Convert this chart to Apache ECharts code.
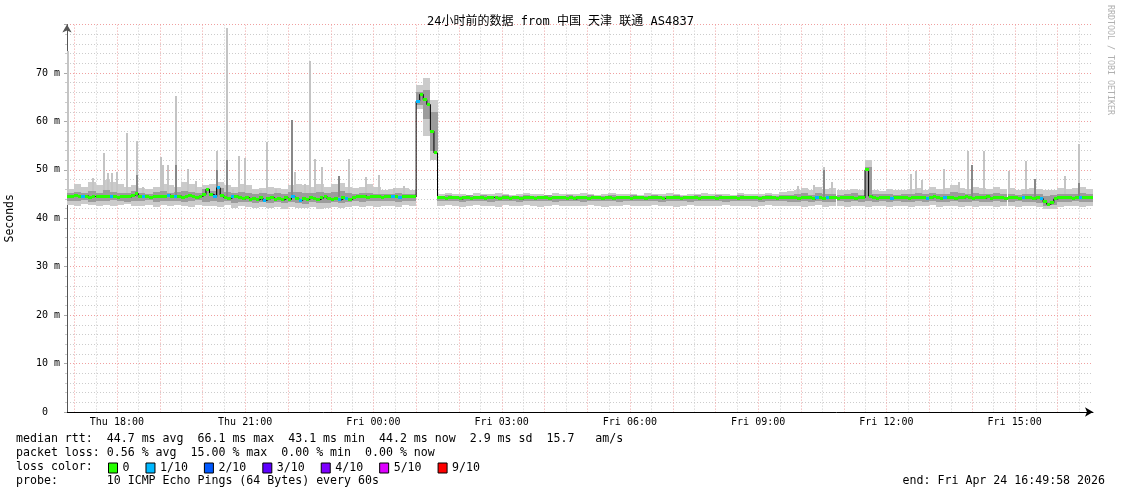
<!DOCTYPE html>
<html><head><meta charset="utf-8">
<script src="https://cdn.jsdelivr.net/npm/echarts@6/dist/echarts.min.js"></script>
<style>html,body{margin:0;padding:0;background:#fff}#c{width:1121px;height:494px}</style>
</head><body><div id="c"></div>
<script>
// ---- time range (hours since Thu 00:00) ----
const startHour = 16.83278;   // Thu 16:49:58
const endHour = 40.83278;     // Fri 16:49:58
const medianStepMin = 5;
const smokeStepMin = 10;

// ---- median RTT (ms), one value per 5 minutes ----
const median = [
44.6,44.5,44.7,44.4,44.5,44.6,44.3,44.5,44.4,44.6,
44.5,44.4,44.6,44.5,44.3,44.5,44.6,44.4,44.7,45.1,
44.6,44.4,44.5,44.3,44.6,44.5,44.4,44.6,44.8,44.5,
44.4,44.6,44.3,44.5,44.7,44.4,44.2,44.5,44.9,46.0,
45.0,44.6,46.3,44.8,44.3,44.1,44.4,44.6,44.2,44.0,
44.3,43.9,44.1,43.8,44.2,43.7,44.0,44.3,43.9,44.1,
43.8,44.2,43.9,44.4,44.0,43.7,44.1,43.9,44.3,44.0,
43.8,44.2,44.5,44.0,43.9,44.1,43.8,44.2,44.0,43.9,
44.3,44.5,44.4,44.6,44.3,44.5,44.4,44.6,44.3,44.5,
44.4,44.6,44.5,44.3,44.5,44.4,44.6,44.4,
64.2,65.6,64.5,63.5,58.0,53.5,
44.2,44.3,44.1,44.2,44.3,44.2,44.0,44.2,44.3,44.1,
44.2,44.2,44.3,44.1,44.2,44.3,44.2,44.1,44.2,44.3,
44.1,44.2,44.2,44.0,44.2,44.3,44.2,44.1,44.2,44.2,
44.3,44.1,44.2,44.2,44.3,44.2,44.1,44.2,44.0,44.2,
44.2,44.3,44.1,44.2,44.2,44.3,44.1,44.2,44.2,44.1,
44.2,44.3,44.2,44.2,44.1,44.2,44.3,44.2,44.1,44.2,
44.2,44.3,44.2,44.1,44.2,44.2,44.3,44.2,44.1,44.2,
44.3,44.2,44.2,44.1,44.2,44.3,44.2,44.2,44.1,44.2,
44.3,44.2,44.2,44.3,44.1,44.2,44.2,44.3,44.2,44.2,
44.1,44.2,44.3,44.2,44.2,44.1,44.2,44.3,44.2,
44.2,44.3,44.1,44.2,44.3,44.2,44.0,44.3,44.2,44.1,
44.2,44.3,44.2,44.1,44.2,44.3,44.2,44.2,44.1,44.3,
44.2,50.0,44.6,44.2,44.1,44.2,44.3,44.2,44.1,44.2,
44.3,44.2,44.2,44.1,44.3,44.2,44.2,44.3,44.1,44.2,
44.4,44.2,44.1,44.3,44.2,44.2,44.0,44.3,44.2,44.4,
44.2,44.1,44.3,44.2,44.2,44.4,44.1,44.2,44.3,44.2,
44.1,44.2,44.3,44.2,44.1,44.3,44.2,44.2,44.0,44.2,
44.1,43.4,42.9,43.2,44.0,44.2,44.3,44.2,44.2,44.1,
44.3,44.2,44.2,44.3,44.2
];
// indices of 5-minute steps with 1/10 packet loss
const lossOneIdx = [4,12,21,28,30,41,42,46,55,63,65,76,78,91,93,98,210,213,231,241,246,268,273,284];

// ---- smoke (ms), one value per 10 minutes ----
const smokeLo = [
42.8,42.6,42.9,42.7,42.5,42.8,42.6,42.7,42.9,42.5,
42.6,42.8,42.4,42.7,42.5,42.8,42.6,42.3,42.7,42.5,
42.6,42.4,42.7,42.2,42.5,42.3,42.1,42.4,42.2,42.3,
42.0,42.4,42.2,42.1,42.3,42.0,42.2,42.4,42.1,42.3,
42.5,42.3,42.6,42.4,42.5,42.6,42.4,42.7,42.5,
62.5,57.0,52.0,
42.5,42.7,42.6,42.4,42.6,42.7,42.5,42.6,42.4,42.7,
42.6,42.5,42.7,42.6,42.4,42.6,42.7,42.5,42.6,42.6,
42.5,42.7,42.6,42.4,42.6,42.5,42.7,42.6,42.5,42.6,
42.7,42.5,42.6,42.4,42.6,42.7,42.5,42.6,42.6,42.5,
42.7,42.6,42.5,42.6,42.4,42.6,42.7,42.5,42.6,42.5,
42.6,42.4,42.5,42.7,42.3,42.6,42.5,42.4,42.6,42.5,
42.4,42.6,42.5,42.3,42.6,42.5,42.4,42.6,42.5,42.7,
42.4,42.5,42.6,42.4,42.5,42.3,42.6,42.5,42.4,42.6,
42.5,42.4,42.6,42.5,42.3,41.9,42.0,42.4,42.5,42.6,
42.4,42.5
];
const smokeHi = [
46.0,47.0,46.5,47.5,46.8,48.0,47.5,47.0,46.5,46.8,
46.3,46.0,46.5,47.0,46.8,46.5,47.5,47.0,46.5,46.8,
47.0,47.5,46.8,46.5,47.0,46.8,46.0,46.3,46.5,46.2,
46.0,46.8,47.0,46.8,46.5,47.0,46.5,47.0,47.3,46.5,
46.2,46.5,47.0,46.5,45.8,46.0,46.2,46.3,45.8,
67.5,69.0,64.5,
45.0,45.2,45.0,45.1,44.9,45.2,45.0,45.1,45.3,45.0,
44.9,45.1,45.2,45.0,45.1,44.9,45.2,45.0,45.1,45.0,
45.2,45.0,44.9,45.1,45.2,45.0,45.1,45.0,44.9,45.2,
45.0,45.1,45.3,45.0,44.9,45.1,45.0,45.2,45.0,45.1,
45.0,44.9,45.2,45.1,45.0,45.1,45.2,45.0,45.4,45.6,
45.8,46.3,45.9,46.5,46.0,46.2,45.8,45.9,46.1,45.8,
52.0,45.9,45.7,46.0,45.8,45.9,46.1,46.3,45.9,46.4,
46.0,46.2,46.8,46.3,46.0,46.5,46.2,46.0,46.4,46.1,
46.3,45.9,46.0,46.2,46.1,45.8,45.9,46.3,46.0,46.2,
46.5,46.0
];
const coreLo = [
43.6,43.5,43.7,43.4,43.6,43.5,43.7,43.5,43.4,43.6,
43.5,43.7,43.4,43.6,43.5,43.6,43.4,43.5,43.7,43.4,
43.5,43.3,43.6,43.2,43.4,43.3,43.1,43.3,43.2,43.4,
43.1,43.3,43.2,43.0,43.3,43.1,43.2,43.4,43.2,43.3,
43.5,43.4,43.6,43.5,43.6,43.5,43.4,43.6,43.5,
63.5,60.5,54.0,
43.5,43.6,43.5,43.4,43.6,43.5,43.6,43.4,43.5,43.6,
43.5,43.4,43.6,43.5,43.5,43.6,43.4,43.5,43.6,43.5,
43.4,43.6,43.5,43.5,43.6,43.4,43.5,43.6,43.5,43.5,
43.6,43.4,43.5,43.6,43.5,43.4,43.6,43.5,43.5,43.6,
43.4,43.5,43.6,43.5,43.5,43.4,43.6,43.5,43.5,43.4,
43.4,43.5,43.3,43.5,43.4,43.3,43.5,43.4,43.5,43.3,
43.6,43.4,43.5,43.3,43.5,43.4,43.3,43.5,43.4,43.5,
43.3,43.4,43.5,43.3,43.4,43.5,43.3,43.4,43.5,43.4,
43.3,43.5,43.4,43.3,43.2,42.6,42.7,43.3,43.4,43.5,
43.3,43.4
];
const coreHi = [
45.2,45.5,45.3,45.6,45.2,45.8,45.5,45.3,45.2,45.6,
45.3,45.1,45.4,45.6,45.3,45.5,45.7,45.4,45.3,46.0,
45.6,46.2,45.5,45.2,45.5,45.3,45.0,45.2,45.1,45.3,
45.0,45.5,45.4,45.2,45.3,45.5,45.2,45.4,45.6,45.2,
45.0,45.2,45.3,45.1,45.0,45.1,45.2,45.0,45.1,
66.0,66.5,62.0,
44.7,44.8,44.7,44.6,44.8,44.7,44.8,44.6,44.7,44.8,
44.7,44.6,44.8,44.7,44.7,44.8,44.6,44.7,44.8,44.7,
44.6,44.8,44.7,44.7,44.8,44.6,44.7,44.8,44.7,44.7,
44.8,44.6,44.7,44.8,44.7,44.6,44.8,44.7,44.7,44.8,
44.6,44.7,44.8,44.7,44.7,44.6,44.8,44.7,44.8,44.9,
45.0,45.2,44.9,45.3,45.0,45.1,44.9,45.0,45.2,44.9,
50.5,45.1,45.0,45.0,44.9,45.0,45.1,45.2,45.0,45.3,
45.0,45.1,45.4,45.2,45.0,45.3,45.1,45.0,45.2,45.0,
45.1,44.9,45.0,45.1,45.0,44.7,44.8,45.1,45.0,45.1,
45.2,45.0
];

// ---- single-ping outliers (thin spikes): hour, max ms ----
const spikeHours = [16.856,17.442,17.700,17.794,17.888,18.005,18.239,18.474,18.614,19.036,19.083,19.200,19.388,19.669,19.856,20.349,20.583,20.724,20.864,21.005,21.380,21.521,21.731,22.177,22.411,22.528,22.645,22.809,23.419,23.817,24.122,24.474,24.708,33.942,34.317,34.552,34.716,36.567,36.685,36.825,37.341,37.692,37.903,37.997,38.278,38.864,39.263,40.177,40.505];
const spikeTops  = [74.5,48.3,53.5,49.3,49.3,49.5,57.7,56.0,46.5,52.7,51.0,51.0,65.2,50.1,47.8,53.9,79.2,46.0,52.9,52.4,45.8,55.8,46.0,49.5,47.0,72.5,52.2,50.6,52.2,48.5,49.0,46.2,46.7,46.7,46.8,50.5,47.5,49.2,49.8,48.0,50.2,47.4,54.0,51.0,53.8,49.8,51.9,48.7,55.3];
const darkSpikeHours = [18.474,19.388,20.349,20.583,22.106,23.184,34.552,37.997,39.474,40.505];
const darkSpikeTops  = [49.0,51.0,50.0,52.0,60.3,48.7,50.0,51.0,48.1,47.3];
const spikeBase = 44.5;

// ---- axis ticks ----
const labelHours = [18,21,24,27,30,33,36,39];
const majorGridHours = [17,18,19,20,21,22,23,24,25,26,27,28,29,30,31,32,33,34,35,36,37,38,39,40];
const minorGridHours = [17.5,18.5,19.5,20.5,21.5,22.5,23.5,24.5,25.5,26.5,27.5,28.5,29.5,30.5,31.5,32.5,33.5,34.5,35.5,36.5,37.5,38.5,39.5,40.5];

const lossNames  = ['0','1/10','2/10','3/10','4/10','5/10','9/10'];
const lossColors = ['#26ff00','#00b8ff','#0059ff','#5e00ff','#7e00ff','#dd00ff','#ff0000'];

const titleText = '24小时前的数据 from 中国 天津 联通 AS4837';
const statLines = [
 'median rtt:  44.7 ms avg  66.1 ms max  43.1 ms min  44.2 ms now  2.9 ms sd  15.7   am/s',
 'packet loss: 0.56 % avg  15.00 % max  0.00 % min  0.00 % now',
 'loss color:',
 'probe:       10 ICMP Echo Pings (64 Bytes) every 60s'
];
const endText = 'end: Fri Apr 24 16:49:58 2026';

// ---------------------------------------------------------------
const MONO = "'DejaVu Sans Mono', monospace";
const mStep = medianStepMin / 60, sStep = smokeStepMin / 60;
const outerData = smokeLo.map((v, k) => [startHour + k * sStep, v, smokeHi[k]]);
const innerData = coreLo.map((v, k) => [startHour + k * sStep, v, coreHi[k]]);
const lineData = median.map((v, i) => [startHour + i * mStep, v]);
lineData.push([endHour, median[median.length - 1]]);
const lossLevel = median.map(() => 0);
lossOneIdx.forEach(i => { lossLevel[i] = 1; });

function bandRender(fill, stepH) {
  return function (params, api) {
    const t = api.value(0), lo = api.value(1), hi = api.value(2);
    const a = api.coord([t, hi]), b = api.coord([t + stepH, lo]);
    const x0 = Math.round(a[0]), x1 = Math.round(b[0]);
    const y0 = Math.round(a[1]), y1 = Math.round(b[1]);
    return { type: 'rect', shape: { x: x0, y: y0, width: Math.max(1, x1 - x0), height: Math.max(1, y1 - y0) }, style: { fill: fill } };
  };
}
function spikeRender(fill, w) {
  return function (params, api) {
    const a = api.coord([api.value(0), api.value(1)]);
    const b = api.coord([api.value(0), spikeBase]);
    const x0 = Math.round(a[0] - w / 2);
    return { type: 'rect', shape: { x: x0, y: Math.round(a[1]), width: w, height: Math.round(b[1]) - Math.round(a[1]) }, style: { fill: fill } };
  };
}
function medRender(fill) {
  return function (params, api) {
    const t = api.value(0), v = api.value(1);
    const a = api.coord([t, v]), b = api.coord([t + mStep, v]);
    const x0 = Math.round(a[0]), x1 = Math.round(b[0]);
    return { type: 'rect', shape: { x: x0, y: Math.round(a[1] - 1.5), width: Math.max(1, x1 - x0), height: 3 }, style: { fill: fill } };
  };
}
function vgridRender(color) {
  return function (params, api) {
    const x = Math.round(api.coord([api.value(0), 0])[0]) + 0.5;
    const cs = params.coordSys;
    return { type: 'line', shape: { x1: x, y1: cs.y, x2: x, y2: cs.y + cs.height }, style: { stroke: color, lineWidth: 1, lineDash: [1, 2] } };
  };
}

const series = [
  { type: 'custom', silent: true, z: 1, clip: true, data: minorGridHours.map(h => [h]), renderItem: vgridRender('#cccccc'), encode: { x: 0 } },
  { type: 'custom', silent: true, z: 1, clip: true, data: majorGridHours.map(h => [h]), renderItem: vgridRender('#f0a0a0'), encode: { x: 0 } },
  { type: 'custom', silent: true, z: 2, clip: true, data: outerData, renderItem: bandRender('#cbcbcb', sStep), encode: { x: 0, y: [1, 2] } },
  { type: 'custom', silent: true, z: 3, clip: true, data: spikeHours.map((h, i) => [h, spikeTops[i]]), renderItem: spikeRender('#c4c4c4', 2), encode: { x: 0, y: 1 } },
  { type: 'custom', silent: true, z: 4, clip: true, data: innerData, renderItem: bandRender('#9c9c9c', sStep), encode: { x: 0, y: [1, 2] } },
  { type: 'custom', silent: true, z: 5, clip: true, data: darkSpikeHours.map((h, i) => [h, darkSpikeTops[i]]), renderItem: spikeRender('#888888', 2), encode: { x: 0, y: 1 } },
  { type: 'line', silent: true, z: 6, data: lineData, step: 'end', symbol: 'none', showSymbol: false, lineStyle: { color: '#000', width: 1 }, clip: true }
];
lossNames.forEach((name, lv) => {
  series.push({
    type: 'custom', name: name, silent: true, z: 7, clip: true,
    itemStyle: { color: lossColors[lv] },
    data: lineData.slice(0, median.length).filter((d, i) => lossLevel[i] === lv),
    renderItem: medRender(lossColors[lv]), encode: { x: 0, y: 1 }
  });
});

const graphics = statLines.map((s, r) => ({
  type: 'text', left: 16, top: 433 + r * 14, silent: true,
  style: { text: s, font: '11.6px ' + MONO, fill: '#000' }
}));
graphics.push({ type: 'text', right: 16, top: 475, silent: true, style: { text: endText, font: '11.6px ' + MONO, fill: '#000' } });
graphics.push({ type: 'text', x: 1110, y: 5, rotation: -Math.PI / 2, silent: true,
  style: { text: 'RRDTOOL / TOBI OETIKER', font: '8.3px ' + MONO, fill: '#b0b0b0', textAlign: 'left', textVerticalAlign: 'middle' } });

const option = {
  animation: false,
  backgroundColor: '#ffffff',
  title: { text: titleText, left: 'center', top: 16, padding: 0,
    textStyle: { fontFamily: "'DejaVu Sans Mono','Noto Sans CJK SC'", fontSize: 12, fontWeight: 'normal', color: '#000' } },
  grid: { left: 67, right: 28, top: 24.6, bottom: 82, containLabel: false, outerBoundsMode: 'none' },
  legend: { left: 108, top: 462, padding: 0, itemWidth: 9, itemHeight: 10, itemGap: 16, selectedMode: false, icon: 'rect',
    itemStyle: { borderColor: '#000', borderWidth: 1 },
    textStyle: { fontFamily: MONO, fontSize: 11.6, color: '#000' }, data: lossNames },
  xAxis: {
    type: 'value', min: startHour, max: endHour,
    splitLine: { show: false },
    axisLine: { show: true, onZero: false, lineStyle: { color: '#000', width: 1 }, symbol: ['none', 'arrow'], symbolSize: [7, 8] },
    axisTick: { show: false },
    axisLabel: { customValues: labelHours, margin: 5, fontFamily: MONO, fontSize: 10, color: '#000',
      formatter: v => (v < 24 ? 'Thu ' : 'Fri ') + String(Math.round(v) % 24).padStart(2, '0') + ':00' }
  },
  yAxis: {
    type: 'value', min: 0, max: 80, interval: 10,
    name: 'Seconds', nameLocation: 'middle', nameGap: 51, nameRotate: 90,
    nameTextStyle: { fontFamily: MONO, fontSize: 11.5, color: '#000' },
    axisLine: { show: true, lineStyle: { color: '#555', width: 1 }, symbol: ['none', 'arrow'], symbolSize: [7, 8] },
    axisTick: { show: true, length: 3, lineStyle: { color: '#aaa' } },
    minorTick: { show: true, splitNumber: 5, length: 2, lineStyle: { color: '#ccc' } },
    axisLabel: { showMaxLabel: false, margin: 7, fontFamily: MONO, fontSize: 10, color: '#000',
      formatter: v => (v === 0 ? '0  ' : v + ' m') },
    splitLine: { show: true, lineStyle: { color: '#f0a0a0', type: [1, 2] } },
    minorSplitLine: { show: true, lineStyle: { color: '#cccccc', type: [1, 2] } }
  },
  graphic: graphics,
  series: series
};
const chart = echarts.init(document.getElementById('c'));
chart.setOption(option);
</script>
</body></html>
